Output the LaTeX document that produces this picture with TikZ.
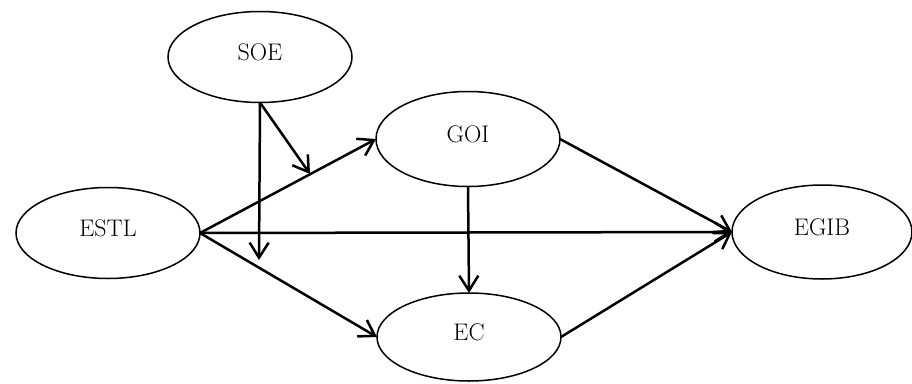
\documentclass[tikz,border=0pt]{standalone}
\usepackage{tikz}
\usetikzlibrary{positioning}
\usetikzlibrary{shapes,arrows.meta}

\begin{document}
\begin{tikzpicture}[x=1pt,y=-1pt]
\tikzstyle{var}=[ellipse, minimum width=184pt, minimum height=91pt, line width=1.5pt, draw=black, inner sep=0pt, outer sep=0pt, font=\fontsize{24}{28}\selectfont, text height=16pt, text depth=10pt]
\tikzstyle{connect}=[-{Straight Barb[length=15pt,width=19pt]}, line width=2.5pt]
\useasboundingbox (0,0) rectangle (912,383);
	\node[var] (soe) at (260,57) {SOE};
	\node[var] (estl) at (108,233) {ESTL};
	\node[var, minimum height=95pt] (goi) at (468,139) {GOI};
	\node[var, minimum height=88pt] (ec) at (469,337) {EC};
	\node[var, minimum width=180pt, minimum height=94pt] (egib) at (822,232) {EGIB};

	\coordinate (m_1) at (259,260);
	\coordinate (m_2) at (310,174);

	\path
		(estl.east) edge [connect] (goi.west)
		(estl.east) edge [connect] (ec.west)
		(estl.east) edge [connect] (egib.west)
		(goi.east) edge [connect] (egib.west)
		(ec.east) edge [connect] (egib.west)
		(goi.south) edge [connect] (ec.north)
		(soe.south) edge [connect] (m_1)
		(soe.south) edge [connect] (m_2);

\end{tikzpicture}
\end{document}
